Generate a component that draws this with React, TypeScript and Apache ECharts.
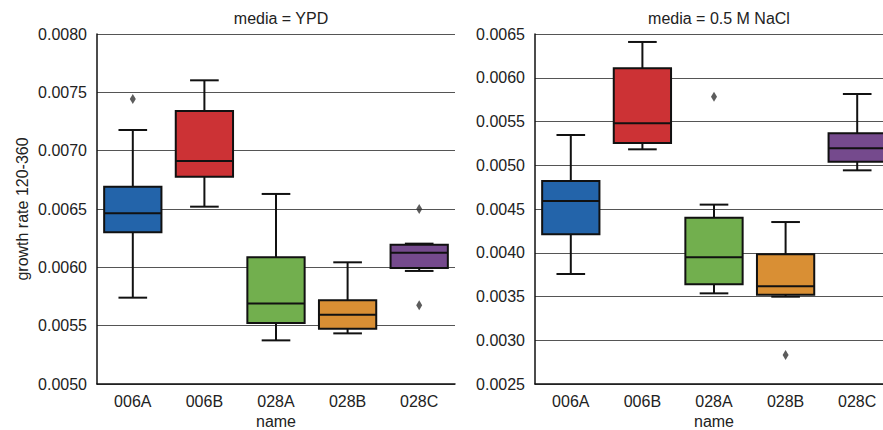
import React, { useEffect, useRef } from "react";
import * as echarts from "echarts";

const categories = ["006A", "006B", "028A", "028B", "028C"];
const boxColors = ["#2364aa", "#cc3235", "#72af4e", "#d98f34", "#754a8d"];

// [whiskerLow, Q1, median, Q3, whiskerHigh]
const ypdBoxes = [
  [0.00574, 0.0063, 0.006463, 0.006691, 0.007177],
  [0.00652, 0.006777, 0.006911, 0.00734, 0.007603],
  [0.005374, 0.005523, 0.005689, 0.006086, 0.006629],
  [0.005434, 0.005474, 0.005594, 0.005717, 0.006043],
  [0.005969, 0.005994, 0.006126, 0.006194, 0.006203],
];
const ypdOutliers: [string, number][] = [
  ["006A", 0.007443],
  ["028C", 0.0065],
  ["028C", 0.005674],
];

const naclBoxes = [
  [0.003757, 0.004211, 0.004591, 0.00482, 0.005346],
  [0.005182, 0.005254, 0.005479, 0.006108, 0.006409],
  [0.003536, 0.003639, 0.003948, 0.004401, 0.00455],
  [0.003498, 0.003521, 0.003616, 0.003982, 0.004351],
  [0.004942, 0.005041, 0.005193, 0.005365, 0.005814],
];
const naclOutliers: [string, number][] = [
  ["028A", 0.005784],
  ["028B", 0.002831],
];

const FONT = "Liberation Sans, Arial, sans-serif";

function renderBox(params: any, api: any) {
  const x = api.value(0);
  const lo = api.value(1);
  const q1 = api.value(2);
  const med = api.value(3);
  const q3 = api.value(4);
  const hi = api.value(5);
  const band = api.size([1, 0])[0];
  const cx = api.coord([x, med])[0];
  const yLo = api.coord([x, lo])[1];
  const yQ1 = api.coord([x, q1])[1];
  const yMed = api.coord([x, med])[1];
  const yQ3 = api.coord([x, q3])[1];
  const yHi = api.coord([x, hi])[1];
  const bw = band * 0.8;
  const cw = band * 0.4;
  const ls = { stroke: "#111", lineWidth: 2 };
  return {
    type: "group",
    children: [
      { type: "line", shape: { x1: cx, y1: yHi, x2: cx, y2: yQ3 }, style: ls },
      { type: "line", shape: { x1: cx, y1: yQ1, x2: cx, y2: yLo }, style: ls },
      { type: "line", shape: { x1: cx - cw / 2, y1: yHi, x2: cx + cw / 2, y2: yHi }, style: ls },
      { type: "line", shape: { x1: cx - cw / 2, y1: yLo, x2: cx + cw / 2, y2: yLo }, style: ls },
      {
        type: "rect",
        shape: { x: cx - bw / 2, y: yQ3, width: bw, height: yQ1 - yQ3 },
        style: { fill: boxColors[params.dataIndex], stroke: "#111", lineWidth: 2 },
      },
      { type: "line", shape: { x1: cx - bw / 2, y1: yMed, x2: cx + bw / 2, y2: yMed }, style: ls },
    ],
  };
}

function toData(boxes: number[][]) {
  return boxes.map((b, i) => [i, ...b]);
}

export default function App() {
  const ref = useRef<HTMLDivElement>(null);
  useEffect(() => {
    document.body.style.margin = "0";
    const chart = echarts.init(ref.current!, null, { renderer: "svg" });
    const xAxisCommon = {
      type: "category" as const,
      data: categories,
      axisLine: { lineStyle: { color: "#111", width: 1.5 } },
      axisTick: { show: false },
      axisLabel: { color: "#222", fontSize: 16, fontFamily: FONT, margin: 9 },
      name: "name",
      nameLocation: "middle" as const,
      nameGap: 29,
      nameTextStyle: { color: "#222", fontSize: 16, fontFamily: FONT, lineHeight: 16 },
    };
    const yAxisCommon = {
      type: "value" as const,
      interval: 0.0005,
      axisLine: { show: true, lineStyle: { color: "#111", width: 1.5 } },
      axisTick: { show: false },
      splitLine: { show: true, lineStyle: { color: "#555", width: 1 } },
      axisLabel: {
        color: "#222",
        fontSize: 16,
        fontFamily: FONT,
        margin: 10,
        formatter: (v: number) => v.toFixed(4),
      },
    };
    chart.setOption({
      animation: false,
      title: [
        {
          text: "media = YPD",
          left: 97 + 179,
          top: 5,
          textAlign: "center",
          textStyle: { fontSize: 16, fontWeight: "normal", color: "#222", fontFamily: FONT },
        },
        {
          text: "media = 0.5 M NaCl",
          left: 535 + 179,
          top: 5,
          textAlign: "center",
          textStyle: { fontSize: 16, fontWeight: "normal", color: "#222", fontFamily: FONT },
        },
      ],
      grid: [
        { left: 97, top: 34, width: 358, height: 350, outerBoundsMode: "none", containLabel: false },
        { left: 535, top: 34, width: 358, height: 350, outerBoundsMode: "none", containLabel: false },
      ],
      xAxis: [
        { ...xAxisCommon, gridIndex: 0 },
        { ...xAxisCommon, gridIndex: 1 },
      ],
      yAxis: [
        {
          ...yAxisCommon,
          gridIndex: 0,
          min: 0.005,
          max: 0.008,
          name: "growth rate 120-360",
          nameLocation: "middle",
          nameGap: 67,
          nameTextStyle: { color: "#222", fontSize: 16, fontFamily: FONT },
        },
        { ...yAxisCommon, gridIndex: 1, min: 0.0025, max: 0.0065 },
      ],
      series: [
        {
          type: "custom",
          xAxisIndex: 0,
          yAxisIndex: 0,
          renderItem: renderBox,
          encode: { x: 0, y: [1, 2, 3, 4, 5] },
          data: toData(ypdBoxes),
          z: 3,
        },
        {
          type: "custom",
          xAxisIndex: 1,
          yAxisIndex: 1,
          renderItem: renderBox,
          encode: { x: 0, y: [1, 2, 3, 4, 5] },
          data: toData(naclBoxes),
          z: 3,
        },
        {
          type: "scatter",
          xAxisIndex: 0,
          yAxisIndex: 0,
          symbol: "diamond",
          symbolSize: [6, 10],
          itemStyle: { color: "#333" },
          data: ypdOutliers,
          z: 4,
        },
        {
          type: "scatter",
          xAxisIndex: 1,
          yAxisIndex: 1,
          symbol: "diamond",
          symbolSize: [6, 10],
          itemStyle: { color: "#333" },
          data: naclOutliers,
          z: 4,
        },
      ],
    });
    return () => chart.dispose();
  }, []);
  return <div ref={ref} style={{ width: 883, height: 430 }} />;
}
